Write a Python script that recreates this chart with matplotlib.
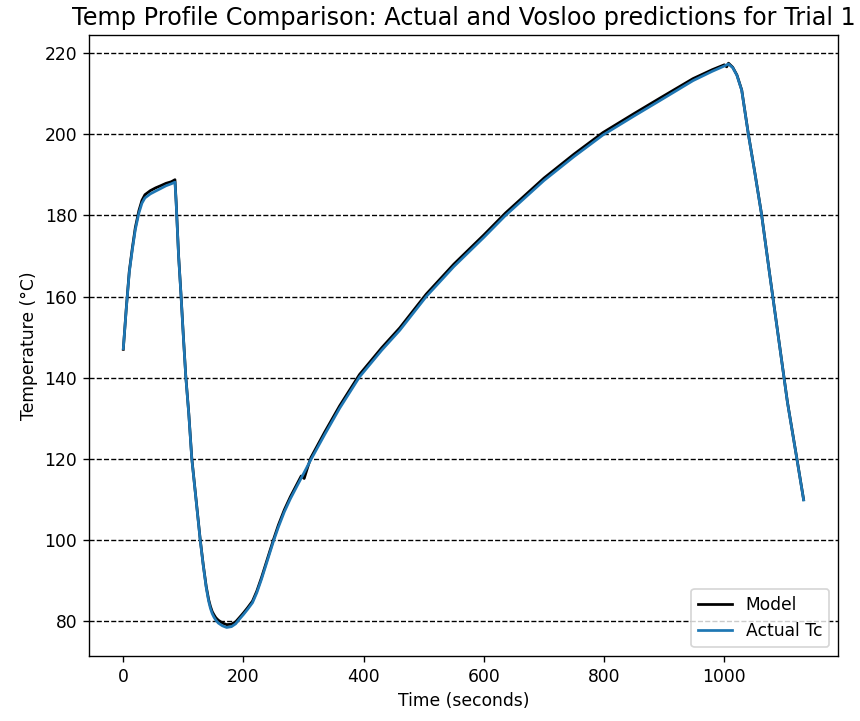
import matplotlib
matplotlib.use("Agg")
import matplotlib.pyplot as plt

# Actual thermocouple readings (time in s, temperature in °C)
actual_t = [0, 5, 10, 15, 20, 26, 31, 36, 45, 54, 62, 71, 80, 86, 88, 92, 96, 100,
            104, 109, 114, 121, 128, 133, 138, 142, 145, 148, 151, 154, 158, 165,
            172, 180, 187, 193, 200, 207, 215, 222, 230, 240, 250, 258, 268, 278,
            290, 300, 312, 335, 360, 393, 430, 460, 504, 550, 600, 636, 700, 750,
            798, 850, 893, 948, 980, 1000, 1007, 1014, 1021, 1029, 1040, 1051,
            1062, 1075, 1090, 1105, 1121, 1132]
actual_T = [147.2, 157.0, 166.0, 171.5, 176.5, 180.6, 183.0, 184.3, 185.3, 186.0,
            186.6, 187.3, 187.8, 188.2, 183.0, 170.0, 160.4, 150.0, 140.2, 131.0,
            120.0, 110.0, 100.0, 93.8, 88.3, 85.0, 83.2, 81.9, 81.0, 80.3, 79.6,
            78.9, 78.5, 78.7, 79.4, 80.5, 81.7, 83.0, 84.6, 87.0, 90.4, 95.1, 99.8,
            103.2, 107.0, 110.2, 113.6, 116.4, 119.8, 126.0, 132.5, 140.2, 146.8,
            151.7, 160.0, 167.4, 174.6, 180.0, 188.6, 194.5, 199.8, 204.5, 208.3,
            213.2, 215.5, 216.8, 217.3, 216.4, 214.5, 210.8, 200.0, 190.3, 180.2,
            166.0, 150.0, 134.0, 119.8, 109.9]

# Model predictions
model_t = [0, 5, 10, 15, 20, 26, 31, 36, 45, 54, 62, 71, 80, 86, 88, 92, 96, 100,
           104, 109, 114, 121, 128, 133, 138, 142, 145, 148, 151, 154, 158, 165,
           172, 180, 187, 193, 200, 207, 215, 222, 230, 240, 250, 258, 268, 278,
           290, 296, 301, 306, 312, 335, 360, 393, 430, 460, 504, 550, 600, 636,
           700, 750, 798, 850, 893, 948, 980, 1000, 1004, 1007, 1014, 1021, 1029,
           1040, 1051, 1062, 1075, 1090, 1105, 1121, 1132]
model_T = [147.0, 157.2, 166.3, 171.9, 177.0, 181.2, 183.7, 185.1, 186.1, 186.8,
           187.3, 187.9, 188.3, 188.8, 183.2, 170.2, 160.6, 150.2, 140.4, 131.2,
           120.2, 110.2, 100.2, 94.0, 88.6, 85.4, 83.7, 82.4, 81.6, 80.9, 80.3,
           79.6, 79.2, 79.3, 79.9, 80.9, 82.1, 83.4, 85.0, 87.4, 90.8, 95.5, 100.2,
           103.7, 107.5, 110.7, 114.1, 115.8, 115.2, 117.6, 120.3, 126.6, 133.1,
           140.8, 147.4, 152.3, 160.6, 168.0, 175.2, 180.6, 189.2, 195.1, 200.4,
           205.1, 208.9, 213.7, 215.9, 217.1, 216.6, 217.5, 216.5, 214.6, 210.9,
           200.1, 190.4, 180.3, 166.1, 150.1, 134.1, 119.9, 110.0]

fig = plt.figure(figsize=(860 / 123, 721 / 123), dpi=123)
ax = fig.add_axes([0.1038, 0.0906, 0.974 - 0.1038, 0.9515 - 0.0906])

ax.plot(model_t, model_T, color="black", linewidth=1.6, label="Model")
ax.plot(actual_t, actual_T, color="#1f77b4", linewidth=1.6, label="Actual Tc")

ax.set_title("Temp Profile Comparison: Actual and Vosloo predictions for Trial 1",
             fontsize=14)
ax.set_xlabel("Time (seconds)")
ax.set_ylabel("Temperature (°C)")
ax.yaxis.grid(True, linestyle="--", color="black", linewidth=0.8)
ax.set_axisbelow(True)
ax.legend(loc="lower right")

fig.savefig("out.png", dpi=123)
